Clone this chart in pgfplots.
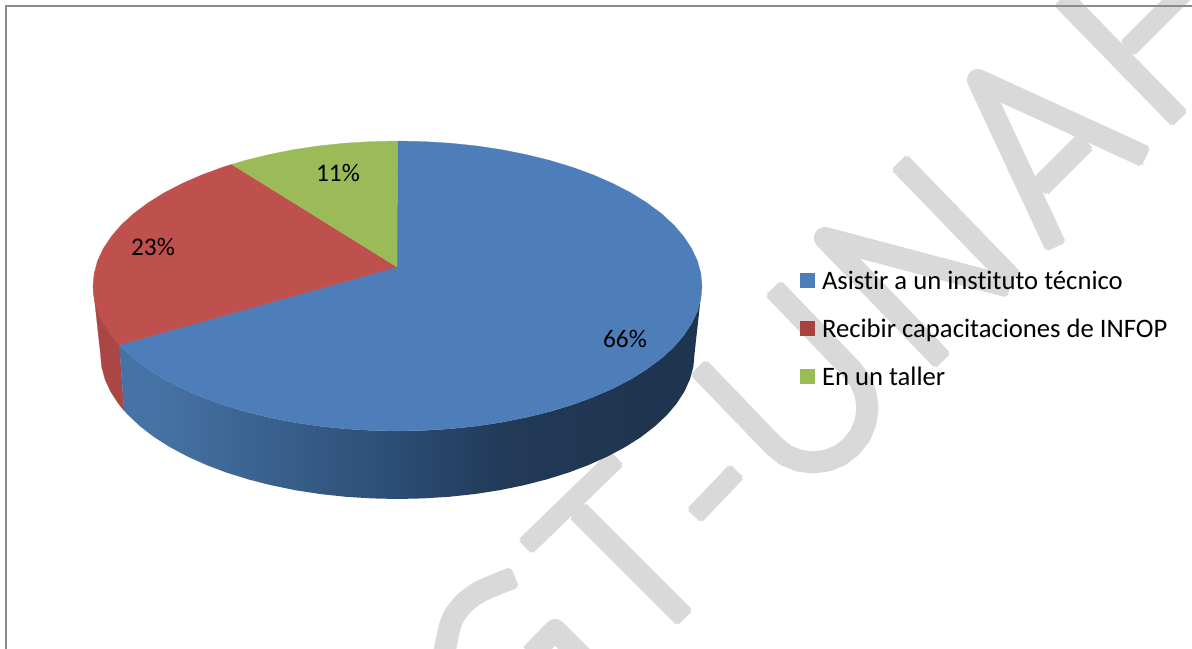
\documentclass[border=0pt]{standalone}
\usepackage{pgfplots}
\pgfplotsset{compat=1.18}
\usepackage{fontspec}
\setmainfont{Carlito}[Ligatures=CommonOff]

\definecolor{blueTop}{RGB}{77,126,186}
\definecolor{redTop}{RGB}{190,80,77}
\definecolor{greenTop}{RGB}{155,187,89}
\definecolor{redSide}{RGB}{170,70,67}
\definecolor{legRed}{RGB}{168,66,62}
\definecolor{wm}{RGB}{217,217,217}
\definecolor{frameGrey}{RGB}{140,140,140}
\definecolor{sideA}{RGB}{70,115,165}
\definecolor{sideB}{RGB}{45,78,118}
\definecolor{sideC}{RGB}{34,58,88}
\definecolor{sideD}{RGB}{31,52,78}

% side wall of the blue slice, 25bp..75bp is the width of the path
\pgfdeclarehorizontalshading{blueside}{100bp}{
  color(0bp)=(sideA);
  color(28bp)=(sideA);
  color(48bp)=(sideB);
  color(58bp)=(sideC);
  color(71bp)=(sideD);
  color(100bp)=(sideD)}

\newcommand{\legtext}[1]{\rule[-5pt]{0pt}{21.5pt}#1}
% watermark stroke: wide part a bit shorter, thin part to the tip, so the ends look soft
\newcommand{\wstroke}[4][]{%
  \addplot[wmark, #1, line width=#2, shorten >=1.5pt, shorten <=1.5pt] coordinates {#4};
  \addplot[wmark, #1, line width=#3] coordinates {#4};}

\begin{document}
\begin{tikzpicture}
\path[use as bounding box] (0,0) rectangle (894pt,486.75pt);
\begin{axis}[
    at={(0,0)}, anchor=south west,
    scale only axis,
    width=894pt, height=486.75pt,
    xmin=0, xmax=1192, ymin=0, ymax=649,
    y dir=reverse,
    hide axis,
    legend style={at={(axis cs:800,267)}, anchor=north west, draw=none, fill=none,
        inner sep=0pt, outer sep=0pt, row sep=18pt, column sep=5.25pt,
        nodes={inner sep=0pt, outer sep=0pt},
        font=\fontsize{20}{24}\selectfont},
    legend cell align=left,
    legend image code/.code={\fill[#1, draw=none] (0pt,-6.75pt) rectangle (11.25pt,4.5pt);},
    wmark/.style={draw=wm, line join=round, forget plot},
]
\addlegendimage{fill=blueTop}\addlegendentry{\legtext{Asistir a un instituto técnico}}
\addlegendimage{fill=legRed}\addlegendentry{\legtext{Recibir capacitaciones de INFOP}}
\addlegendimage{fill=greenTop}\addlegendentry{\legtext{En un taller}}

% watermark letters
\wstroke[smooth]{16.5pt}{13.5pt}{(515,577) (473,596) (453,618) (445,649) (441,670)}
\wstroke{16.5pt}{13.5pt}{(530,656) (555,630) (592,667)}
\wstroke{16.5pt}{13.5pt}{(577,510) (685,618)}
\wstroke{15pt}{12pt}{(525,547) (617,458)}
\wstroke{15pt}{12pt}{(737,471) (694,516)}
\wstroke{16.5pt}{13.5pt}{(698,367) (774.5,446.5) (785.7,455.2) (798.9,460.6) (813,462.5)
    (827.1,460.6) (840.3,455.2) (851.5,446.5) (860.2,435.3) (865.6,422.1) (867.5,408)
    (865.6,393.9) (860.2,380.7) (851.5,369.5) (773,288)}
\wstroke{16.5pt}{13.5pt}{(943,361) (825,238) (1010,287)}
\wstroke{16.5pt}{13.5pt}{(899,162) (1013,280)}
\wstroke{16.5pt}{13.5pt}{(1056,247) (978,80) (1146,157)}
\wstroke{16.5pt}{13.5pt}{(1086,141) (1039,188)}
\wstroke{16.5pt}{13.5pt}{(1062,-2) (1180,119)}
\wstroke{15pt}{12pt}{(1127,49) (1185,-9)}

% chart frame
\addplot[draw=frameGrey, line width=1.5pt, forget plot] coordinates {(1200,6) (6,6) (6,660)};

% side walls
\addplot[fill=redSide, draw=redSide, line width=.2pt, forget plot] coordinates {
    (93.0,286.0) (94.2,298.6) (97.6,311.2) (103.4,323.5) (111.4,335.6) (119.3,345.0)
    (124.1,410.7) (118.4,403.6) (110.6,391.5) (105.0,379.2) (101.6,366.6) (100.5,354.0)
    (93.0,286.0)};
\addplot[shade, shading=blueside, draw=none, forget plot] coordinates {
    (119.3,345.0) (121.5,347.3) (133.8,358.5) (148.1,369.2) (164.2,379.2) (182.2,388.5)
    (201.8,397.1) (222.8,404.8) (245.2,411.6) (268.8,417.4) (293.4,422.3) (318.7,426.1)
    (344.6,428.8) (370.9,430.4) (397.5,431.0) (424.1,430.4) (450.4,428.8) (476.3,426.1)
    (501.6,422.3) (526.2,417.4) (549.8,411.6) (572.2,404.8) (593.2,397.1) (612.8,388.5)
    (630.8,379.2) (646.9,369.2) (661.2,358.5) (673.5,347.3) (683.6,335.6) (691.6,323.5)
    (697.4,311.2) (700.8,298.6) (702.0,286.0)
    (694.5,354.0) (693.4,366.6) (690.0,379.2) (684.4,391.5) (676.6,403.6) (666.7,415.3)
    (654.7,426.5) (640.8,437.2) (625.0,447.2) (607.5,456.5) (588.4,465.1) (567.9,472.8)
    (546.0,479.6) (523.0,485.4) (499.1,490.3) (474.4,494.1) (449.1,496.8) (423.4,498.4)
    (397.5,499.0) (371.6,498.4) (345.9,496.8) (320.6,494.1) (295.9,490.3) (272.0,485.4)
    (249.0,479.6) (227.1,472.8) (206.6,465.1) (187.5,456.5) (170.0,447.2) (154.2,437.2)
    (140.3,426.5) (128.3,415.3) (124.1,410.7) (119.3,345.0)};

% top faces: 66, 23, 11
\addplot[fill=blueTop, draw=blueTop, line width=.2pt, forget plot] coordinates {
    (397,267) (397.5,141.0) (424.1,141.6) (450.4,143.2) (476.3,145.9) (501.6,149.7)
    (526.2,154.6) (549.8,160.4) (572.2,167.2) (593.2,174.9) (612.8,183.5) (630.8,192.8)
    (646.9,202.8) (661.2,213.5) (673.5,224.7) (683.6,236.4) (691.6,248.5) (697.4,260.8)
    (700.8,273.4) (702.0,286.0) (700.8,298.6) (697.4,311.2) (691.6,323.5) (683.6,335.6)
    (673.5,347.3) (661.2,358.5) (646.9,369.2) (630.8,379.2) (612.8,388.5) (593.2,397.1)
    (572.2,404.8) (549.8,411.6) (526.2,417.4) (501.6,422.3) (476.3,426.1) (450.4,428.8)
    (424.1,430.4) (397.5,431.0) (370.9,430.4) (344.6,428.8) (318.7,426.1) (293.4,422.3)
    (268.8,417.4) (245.2,411.6) (222.8,404.8) (201.8,397.1) (182.2,388.5) (164.2,379.2)
    (148.1,369.2) (133.8,358.5) (121.5,347.3) (119.3,345.0) (397,267)};
\addplot[fill=redTop, draw=redTop, line width=.2pt, forget plot] coordinates {
    (397,267) (119.3,345.0) (111.4,335.6) (103.4,323.5) (97.6,311.2) (94.2,298.6)
    (93.0,286.0) (94.2,273.4) (97.6,260.8) (103.4,248.5) (111.4,236.4) (121.5,224.7)
    (133.8,213.5) (148.1,202.8) (164.2,192.8) (182.2,183.5) (201.8,174.9) (222.8,167.2)
    (231.7,164.4) (397,267)};
\addplot[fill=greenTop, draw=greenTop, line width=.2pt, forget plot] coordinates {
    (397,267) (231.7,164.4) (245.2,160.4) (268.8,154.6) (293.4,149.7) (318.7,145.9)
    (344.6,143.2) (370.9,141.6) (397.5,141.0) (397,267)};

% percentage labels
\node[anchor=base, inner sep=0pt, font=\fontsize{19}{23}\selectfont] at (axis cs:625,347) {66\%};
\node[anchor=base, inner sep=0pt, font=\fontsize{19}{23}\selectfont] at (axis cs:153,255) {23\%};
\node[anchor=base, inner sep=0pt, font=\fontsize{19}{23}\selectfont] at (axis cs:338,182) {11\%};
\end{axis}
\end{tikzpicture}
\end{document}
